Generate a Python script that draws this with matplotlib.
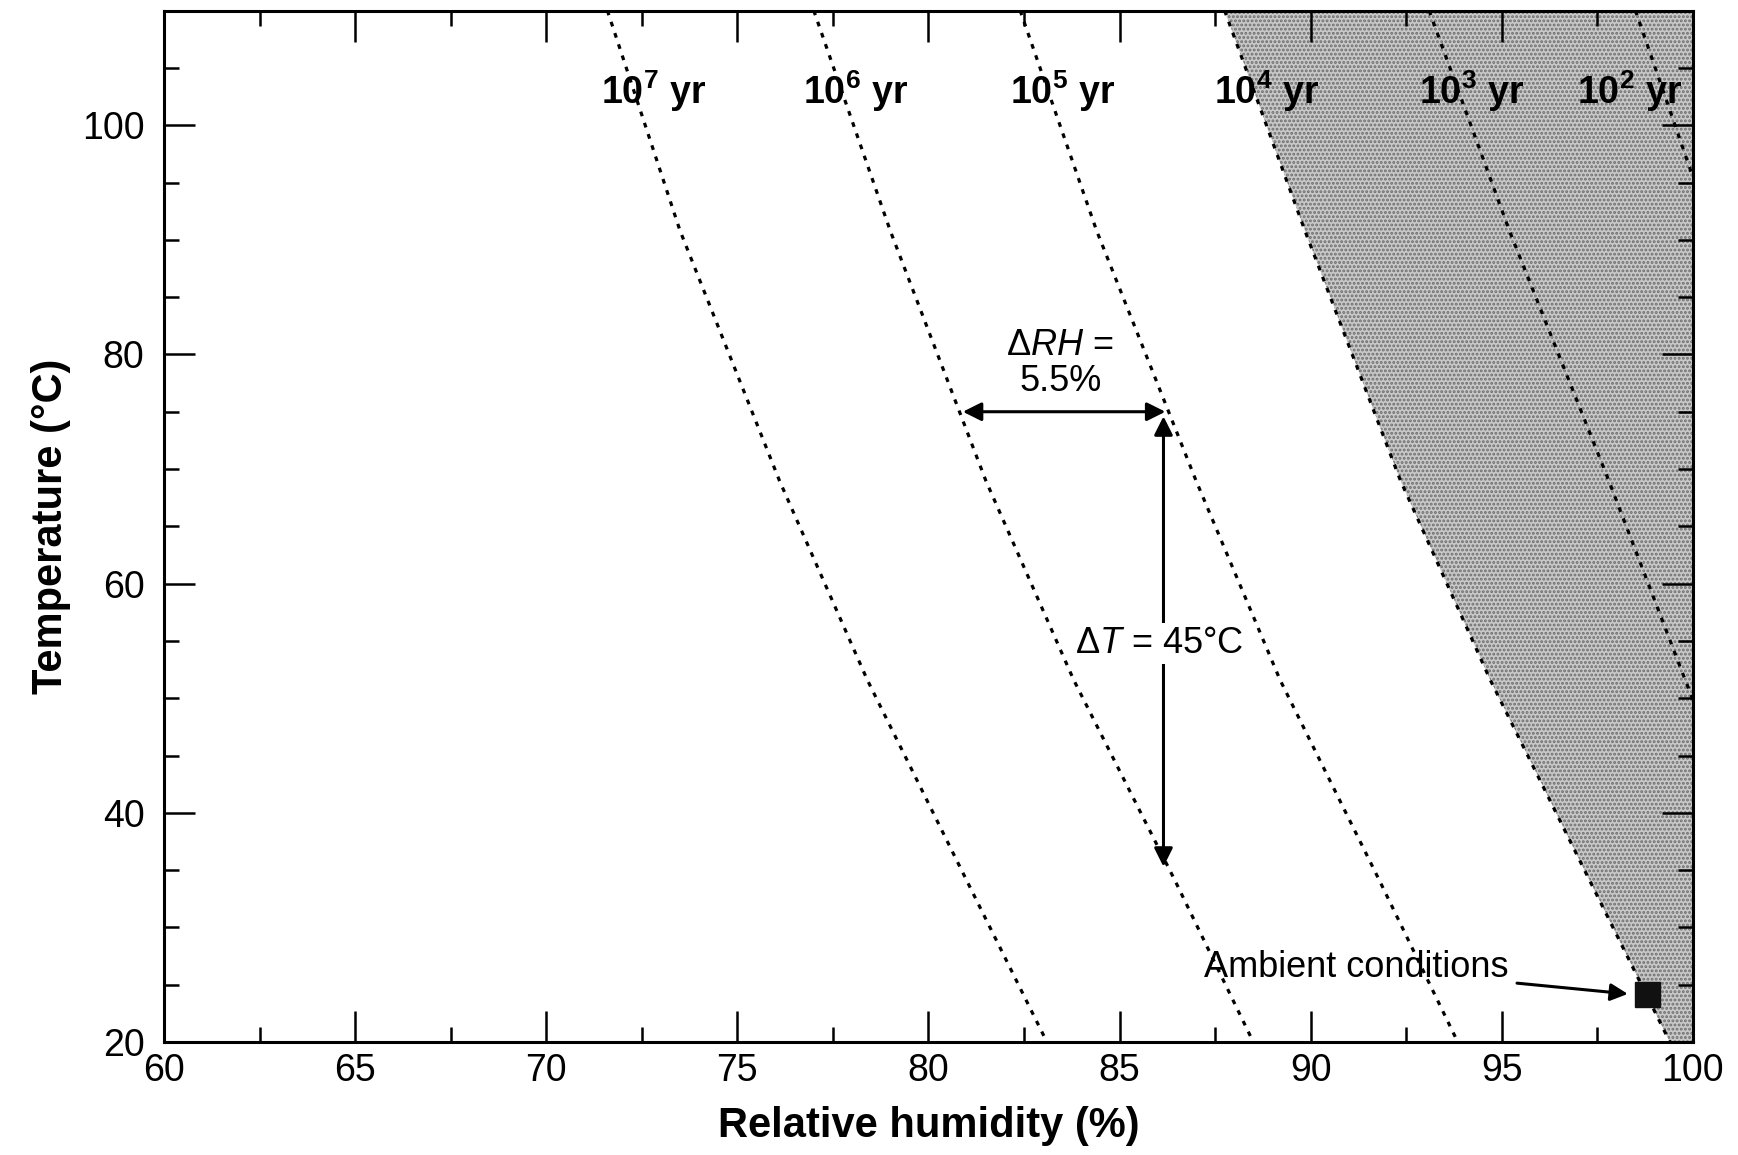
import matplotlib.pyplot as plt
import numpy as np
from matplotlib import font_manager
from matplotlib.ticker import MultipleLocator

plt.rcParams['font.family'] = ['Liberation Sans', 'DejaVu Sans']
plt.rcParams['mathtext.fontset'] = 'custom'
plt.rcParams['mathtext.rm'] = 'Liberation Sans'
plt.rcParams['mathtext.it'] = 'Liberation Sans:italic'
plt.rcParams['mathtext.bf'] = 'Liberation Sans:bold'
plt.rcParams['hatch.linewidth'] = 1.4

installed = {f.name for f in font_manager.fontManager.ttflist}
narrow = 'Liberation Sans Narrow' in installed
bold_family = 'Liberation Sans Narrow' if narrow else 'Liberation Sans'

# lifetime contours, relative humidity (%) read along temperature (C)
temp = [110, 90.8, 69.0, 51.6, 34.1, 20]
rh_1e7 = [71.6, 73.5, 76.1, 78.4, 81.0, 83.1]
rh_1e6 = [77.0, 79.0, 81.5, 83.8, 86.45, 88.5]
rh_1e5 = [82.4, 84.4, 87.0, 89.2, 91.8, 93.85]
rh_1e4 = [87.75, 89.85, 92.35, 94.7, 97.3, 99.4]
temp_1e3 = [110, 90.8, 69.0, 51.6, 49.5]
rh_1e3 = [93.1, 95.2, 97.8, 99.8, 100.05]
temp_1e2 = [110, 95.5, 94.0]
rh_1e2 = [98.5, 100.0, 100.2]

exponents = [7, 6, 5, 4, 3, 2]
label_rh = [72.8, 78.1, 83.5, 88.85, 94.2, 98.35]
label_t = 103

# ΔRH / ΔT construction
drh_t, drh_from, drh_to = 75, 80.9, 86.2
dt_rh, dt_from, dt_to = 86.15, 74.6, 35.3
ambient_rh, ambient_t = 98.8, 24.2

fig = plt.figure(figsize=(17.38, 11.55), dpi=100)
ax = fig.add_axes([0.0944, 0.0978, 0.8796, 0.893])

# stippled zone: lifetimes shorter than 10^4 yr
ax.fill_betweenx(temp, rh_1e4, 100, facecolor='#c8c8c8', hatch='....',
                 edgecolor='#6e6e6e', linewidth=0, zorder=1)

dots = (0, (1.5, 2.2))
for rh, t in [(rh_1e7, temp), (rh_1e6, temp), (rh_1e5, temp),
              (rh_1e4, temp), (rh_1e3, temp_1e3), (rh_1e2, temp_1e2)]:
    ax.plot(rh, t, color='black', lw=2.3, ls=dots, zorder=3)

for e, x in zip(exponents, label_rh):
    ax.text(x, label_t, r'$\mathbf{10}^{\mathbf{%d}}$ yr' % e, ha='center', va='center',
            fontsize=30 if narrow else 27, fontweight='bold',
            family=[bold_family, 'Liberation Sans'], zorder=4)

arrow = dict(arrowstyle='<|-|>', color='black', lw=2.2, mutation_scale=28,
             shrinkA=0, shrinkB=0)
ax.annotate('', xy=(drh_to, drh_t), xytext=(drh_from, drh_t), arrowprops=arrow, zorder=5)
ax.annotate('', xy=(dt_rh, dt_to), xytext=(dt_rh, dt_from), arrowprops=arrow, zorder=5)

ax.text(83.45, 79.2, '$\\Delta\\mathit{RH}$ =\n5.5%', ha='center', va='center',
        fontsize=26, linespacing=1.05, zorder=6)
ax.text(86.05, 54.8, '$\\Delta\\mathit{T}$ = 45°C', ha='center', va='center',
        fontsize=26, zorder=6,
        bbox=dict(facecolor='white', edgecolor='none', pad=2))

ax.plot([ambient_rh], [ambient_t], marker='s', ms=18, color='#111111', zorder=6)
ax.annotate('Ambient conditions', xy=(ambient_rh - 0.5, ambient_t),
            xytext=(91.2, 26.5), ha='center', va='center', fontsize=26,
            arrowprops=dict(arrowstyle='-|>', color='black', lw=2.2,
                            mutation_scale=26, shrinkA=4, shrinkB=0), zorder=6)

ax.set_xlim(60, 100)
ax.set_ylim(20, 110)
ax.xaxis.set_major_locator(MultipleLocator(5))
ax.xaxis.set_minor_locator(MultipleLocator(2.5))
ax.set_yticks([20, 40, 60, 80, 100])
ax.yaxis.set_minor_locator(MultipleLocator(5))
ax.tick_params(which='both', direction='in', top=True, right=True,
               width=1.8, labelsize=27)
ax.tick_params(which='major', length=22)
ax.tick_params(which='minor', length=11)
ax.tick_params(axis='x', pad=8)
ax.tick_params(axis='y', pad=14)
for s in ax.spines.values():
    s.set_linewidth(2.2)

lab = dict(fontsize=33 if narrow else 30, fontweight='bold',
           family=[bold_family, 'Liberation Sans'])
ax.set_xlabel('Relative humidity (%)', labelpad=12, **lab)
ax.set_ylabel('Temperature (°C)', labelpad=8, **lab)

fig.savefig('out.png', dpi=100)
